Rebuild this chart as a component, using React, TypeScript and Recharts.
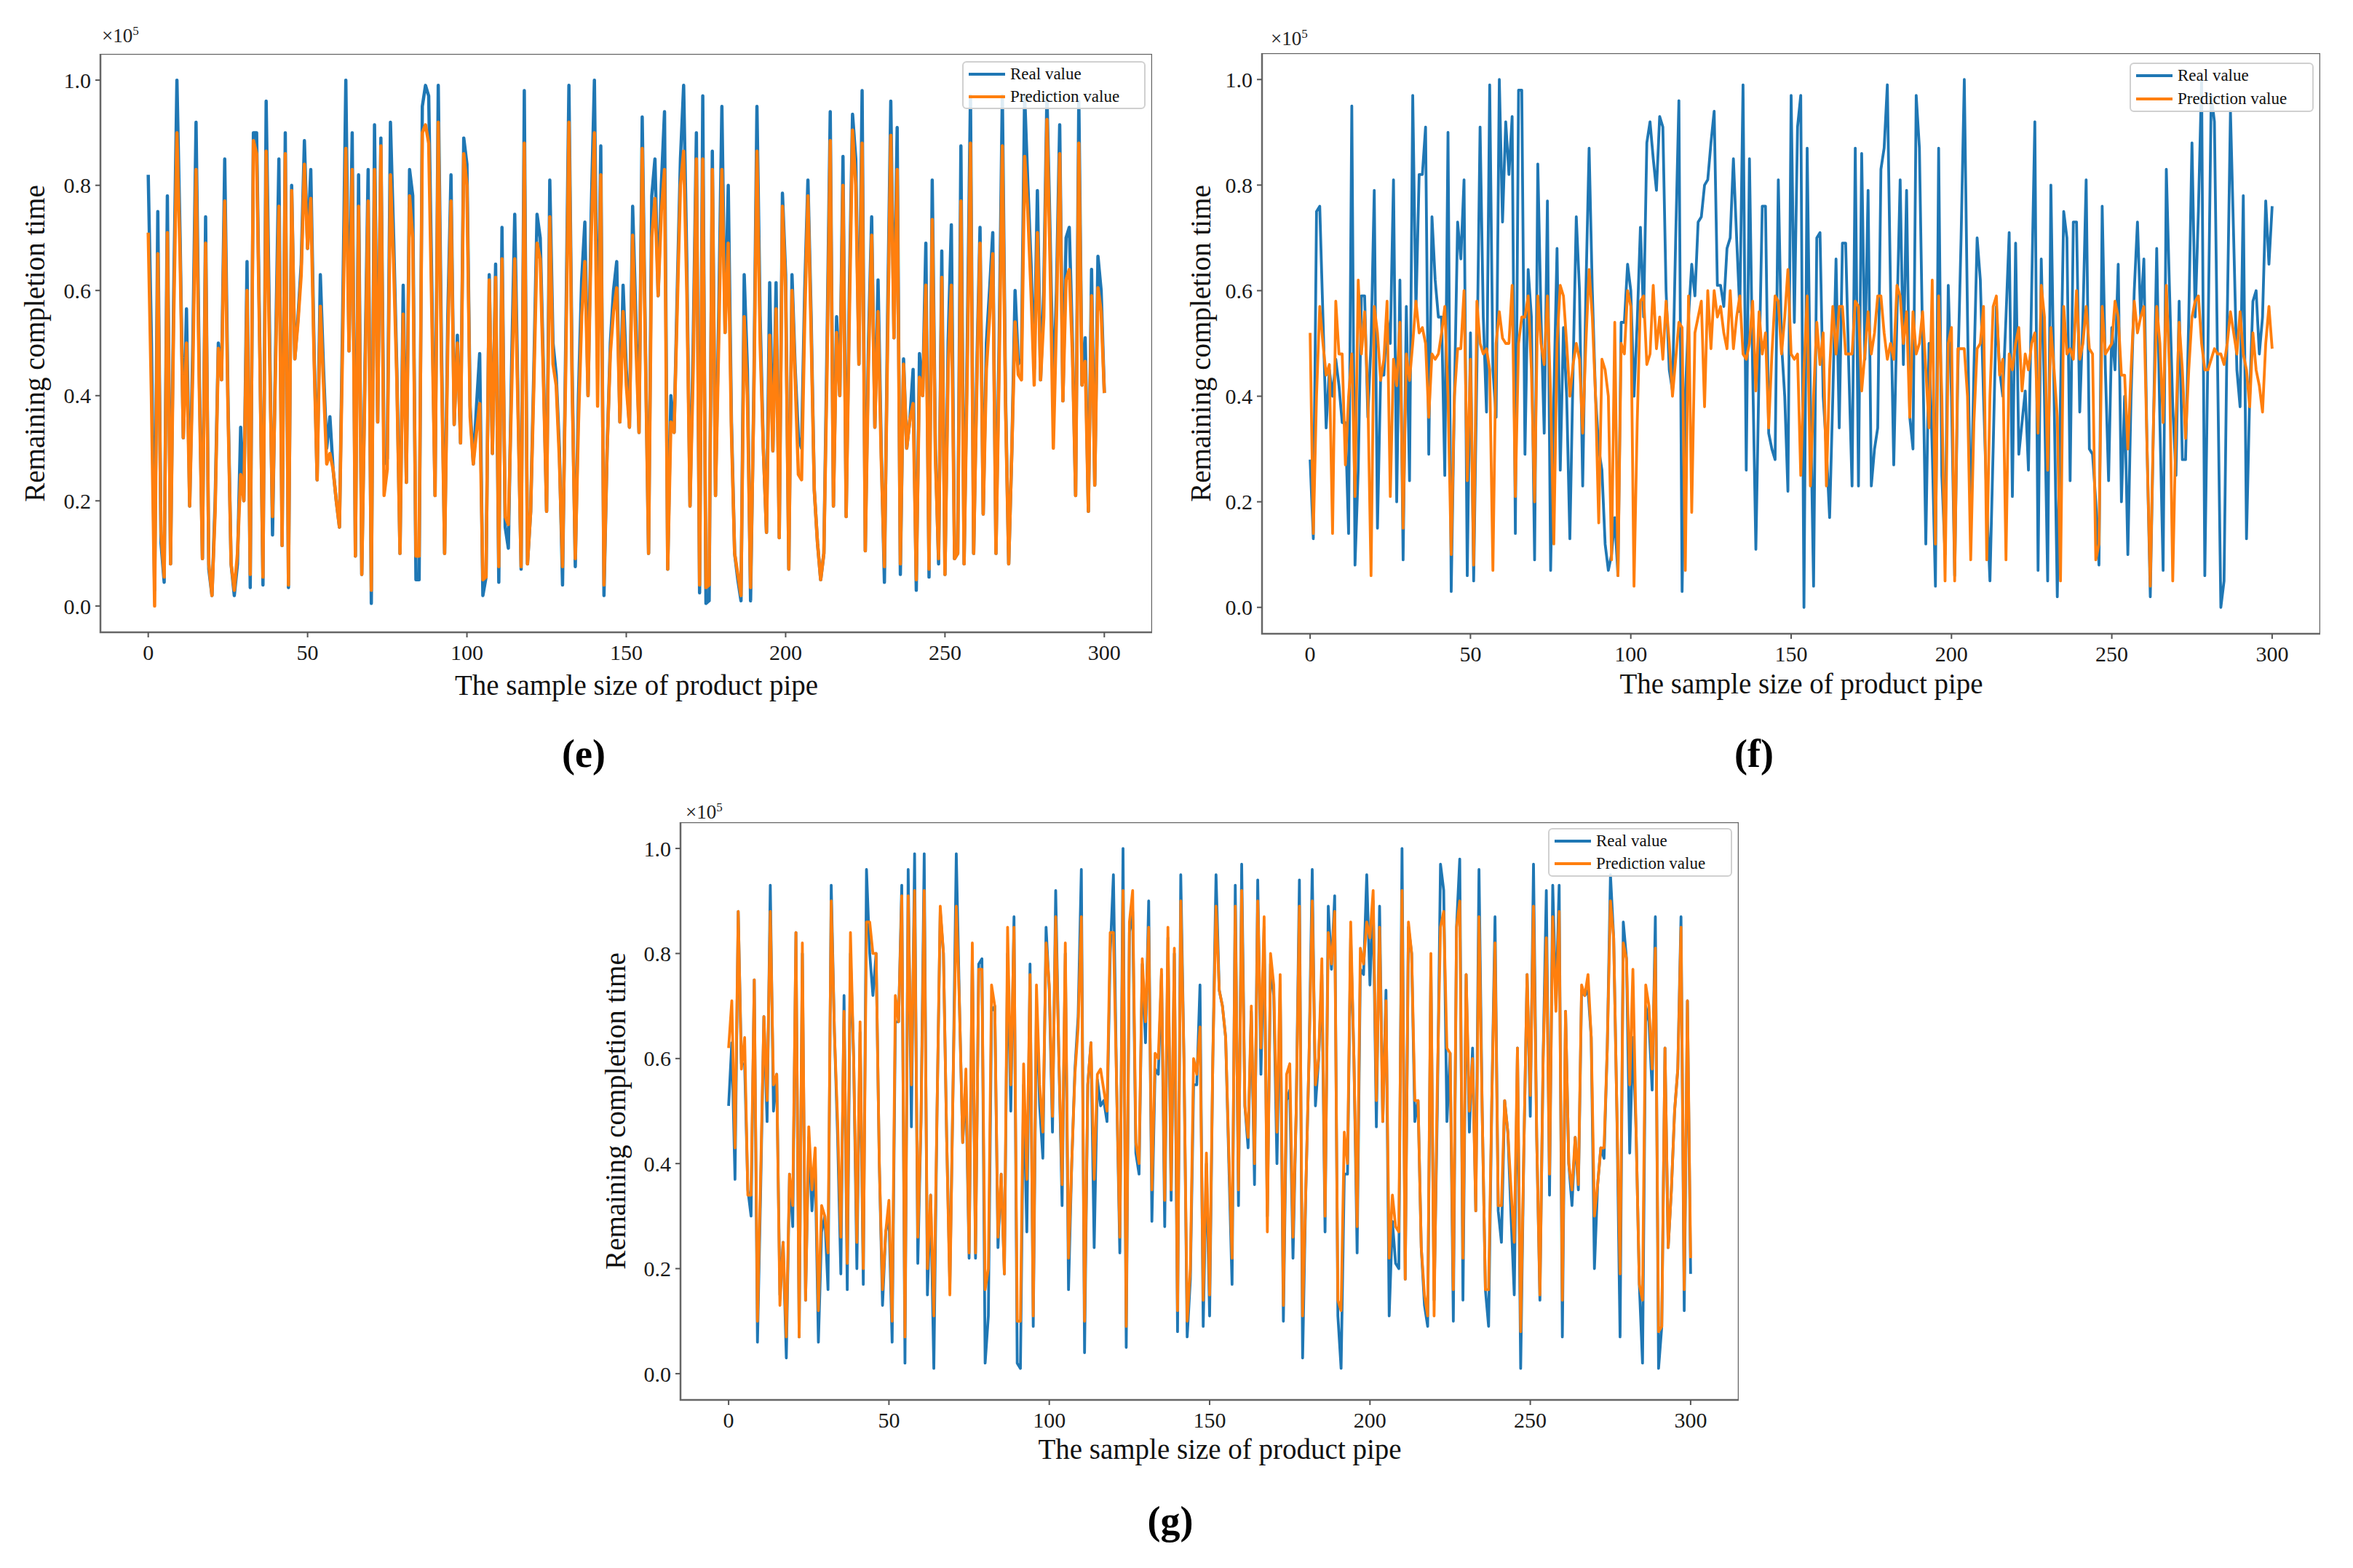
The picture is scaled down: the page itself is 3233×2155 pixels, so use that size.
import { LineChart, Line, XAxis, YAxis, ReferenceArea } from "recharts";

const SERIF = "'Liberation Serif', 'Times New Roman', serif";
const BLUE = "#1f77b4";
const ORANGE = "#ff7f0e";

const xTicks = [0, 50, 100, 150, 200, 250, 300];
const yTicks = [0, 0.2, 0.4, 0.6, 0.8, 1.0];

// values are in units of 1e5
// (e)
const realE = [
  0.82, 0.5, 0.03, 0.75, 0.12, 0.045, 0.78, 0.08, 0.6, 1.0,
  0.7, 0.32, 0.565, 0.19, 0.5, 0.92, 0.45, 0.09, 0.74, 0.07,
  0.02, 0.2, 0.5, 0.43, 0.85, 0.4, 0.08, 0.02, 0.08, 0.34,
  0.2, 0.655, 0.035, 0.9, 0.9, 0.5, 0.04, 0.96, 0.55, 0.135,
  0.5, 0.85, 0.115, 0.9, 0.035, 0.8, 0.47, 0.55, 0.65, 0.885,
  0.68, 0.83, 0.5, 0.24, 0.63, 0.45, 0.3, 0.36, 0.26, 0.2,
  0.15, 0.55, 1.0, 0.485, 0.9, 0.095, 0.82, 0.06, 0.45, 0.83,
  0.005, 0.915, 0.35, 0.89, 0.27, 0.28, 0.92, 0.7, 0.45, 0.1,
  0.61, 0.235, 0.83, 0.78, 0.05, 0.05, 0.95, 0.99, 0.97, 0.6,
  0.21, 0.99, 0.5, 0.1, 0.55, 0.82, 0.345, 0.515, 0.31, 0.89,
  0.84, 0.38, 0.27, 0.38, 0.48, 0.02, 0.055, 0.63, 0.29, 0.65,
  0.045, 0.72, 0.15, 0.11, 0.45, 0.745, 0.4, 0.07, 0.98, 0.08,
  0.18, 0.45, 0.745, 0.7, 0.45, 0.18, 0.81, 0.5, 0.44, 0.3,
  0.04, 0.5, 0.99, 0.45, 0.075, 0.4, 0.62, 0.73, 0.4, 0.75,
  1.0, 0.45, 0.875, 0.02, 0.3, 0.5, 0.6, 0.655, 0.35, 0.61,
  0.45, 0.34, 0.76, 0.55, 0.33, 0.93, 0.5, 0.1, 0.78, 0.85,
  0.59, 0.8, 0.94, 0.07, 0.4, 0.33, 0.6, 0.85, 0.99, 0.65,
  0.19, 0.5, 0.9, 0.025, 0.97, 0.005, 0.01, 0.865, 0.21, 0.55,
  0.95, 0.52, 0.8, 0.35, 0.1, 0.05, 0.01, 0.63, 0.45, 0.01,
  0.4, 0.95, 0.55, 0.3, 0.14, 0.615, 0.295, 0.615, 0.13, 0.785,
  0.63, 0.07, 0.63, 0.45, 0.32, 0.3, 0.6, 0.81, 0.55, 0.22,
  0.12, 0.05, 0.1, 0.5, 0.94, 0.19, 0.55, 0.4, 0.855, 0.17,
  0.6, 0.935, 0.85, 0.46, 0.98, 0.105, 0.5, 0.74, 0.34, 0.62,
  0.3, 0.045, 0.55, 0.96, 0.51, 0.91, 0.06, 0.47, 0.3, 0.355,
  0.45, 0.03, 0.48, 0.4, 0.69, 0.055, 0.81, 0.3, 0.08, 0.675,
  0.06, 0.5, 0.725, 0.09, 0.1, 0.875, 0.08, 0.5, 0.97, 0.1,
  0.45, 0.72, 0.175, 0.5, 0.6, 0.71, 0.1, 0.5, 0.97, 0.4,
  0.08, 0.3, 0.6, 0.46, 0.47, 0.97, 0.8, 0.65, 0.45, 0.79,
  0.43, 0.6, 0.97, 0.7, 0.4, 0.6, 0.915, 0.39, 0.7, 0.72,
  0.5, 0.21, 0.96, 0.42, 0.51, 0.18, 0.64, 0.23, 0.665, 0.6,
  0.405,
];
const predE = [
  0.71, 0.4, 0.0, 0.67, 0.14, 0.055, 0.71, 0.08, 0.55, 0.9,
  0.66, 0.32, 0.5, 0.19, 0.45, 0.83, 0.42, 0.09, 0.69, 0.08,
  0.02, 0.18, 0.49, 0.43, 0.77, 0.38, 0.08, 0.03, 0.1, 0.25,
  0.2, 0.6, 0.06, 0.885, 0.86, 0.48, 0.055, 0.865, 0.5, 0.17,
  0.47, 0.76, 0.115, 0.86, 0.04, 0.79, 0.47, 0.54, 0.63, 0.84,
  0.68, 0.775, 0.48, 0.24, 0.57, 0.42, 0.27, 0.29, 0.26, 0.2,
  0.15, 0.5, 0.87, 0.485, 0.83, 0.095, 0.76, 0.06, 0.42, 0.77,
  0.03, 0.83, 0.35, 0.875, 0.21, 0.26, 0.82, 0.65, 0.43, 0.1,
  0.555, 0.235, 0.78, 0.7, 0.095, 0.095, 0.9, 0.915, 0.88, 0.55,
  0.21, 0.92, 0.46, 0.1, 0.5, 0.77, 0.345, 0.5, 0.31, 0.86,
  0.8, 0.36, 0.27, 0.33, 0.385, 0.05, 0.055, 0.62, 0.29, 0.625,
  0.075, 0.66, 0.17, 0.155, 0.4, 0.66, 0.38, 0.075, 0.88, 0.08,
  0.18, 0.42, 0.69, 0.66, 0.43, 0.18, 0.74, 0.46, 0.42, 0.28,
  0.075, 0.45, 0.92, 0.42, 0.09, 0.35, 0.55, 0.655, 0.4, 0.7,
  0.9, 0.38, 0.82, 0.04, 0.3, 0.48, 0.56, 0.605, 0.35, 0.56,
  0.42, 0.34, 0.705, 0.5, 0.33, 0.87, 0.48, 0.1, 0.7, 0.775,
  0.59, 0.75, 0.83, 0.07, 0.35, 0.33, 0.57, 0.8, 0.865, 0.6,
  0.19, 0.45, 0.85, 0.04, 0.85, 0.035, 0.04, 0.83, 0.21, 0.5,
  0.83, 0.52, 0.69, 0.33, 0.1, 0.06, 0.02, 0.55, 0.4, 0.035,
  0.38, 0.865, 0.5, 0.3, 0.14, 0.515, 0.295, 0.565, 0.13, 0.76,
  0.6, 0.07, 0.6, 0.43, 0.25, 0.24, 0.55, 0.78, 0.52, 0.22,
  0.12, 0.05, 0.1, 0.45, 0.885, 0.19, 0.52, 0.4, 0.8, 0.17,
  0.55, 0.905, 0.8, 0.46, 0.88, 0.105, 0.46, 0.705, 0.34, 0.56,
  0.28, 0.075, 0.5, 0.895, 0.51, 0.83, 0.08, 0.46, 0.3, 0.355,
  0.385, 0.05, 0.435, 0.4, 0.61, 0.07, 0.735, 0.28, 0.09, 0.625,
  0.06, 0.45, 0.61, 0.09, 0.1, 0.77, 0.08, 0.45, 0.88, 0.1,
  0.42, 0.69, 0.175, 0.45, 0.55, 0.67, 0.1, 0.45, 0.875, 0.38,
  0.08, 0.3, 0.54, 0.44, 0.43, 0.855, 0.75, 0.6, 0.42, 0.71,
  0.43, 0.55, 0.925, 0.65, 0.3, 0.55, 0.86, 0.39, 0.62, 0.64,
  0.48, 0.21, 0.88, 0.42, 0.465, 0.18, 0.59, 0.23, 0.605, 0.56,
  0.405,
];

// (f)
const realF = [
  0.28, 0.13, 0.75, 0.76, 0.55, 0.34, 0.45, 0.4, 0.47, 0.42,
  0.35, 0.35, 0.14, 0.95, 0.08, 0.26, 0.59, 0.59, 0.36, 0.5,
  0.79, 0.15, 0.44, 0.44, 0.55, 0.5, 0.81, 0.2, 0.62, 0.09,
  0.57, 0.24, 0.97, 0.56, 0.82, 0.82, 0.91, 0.29, 0.74, 0.62,
  0.55, 0.55, 0.25, 0.9, 0.03, 0.4, 0.73, 0.66, 0.81, 0.06,
  0.52, 0.05, 0.45, 0.91, 0.55, 0.37, 0.99, 0.45, 0.36, 1.0,
  0.73, 0.92, 0.82, 0.93, 0.14, 0.98, 0.98, 0.29, 0.64, 0.55,
  0.09, 0.84, 0.55, 0.33, 0.77, 0.07, 0.4, 0.68, 0.26, 0.53,
  0.4, 0.13, 0.45, 0.74, 0.6, 0.23, 0.6, 0.87, 0.6, 0.4,
  0.3, 0.26, 0.12, 0.07, 0.1, 0.17, 0.06, 0.54, 0.54, 0.65,
  0.6, 0.4, 0.54, 0.72, 0.55, 0.88, 0.92, 0.85, 0.79, 0.93,
  0.91, 0.6, 0.45, 0.41, 0.7, 0.96, 0.03, 0.4, 0.55, 0.65,
  0.59, 0.73, 0.74, 0.8, 0.81, 0.88, 0.94, 0.61, 0.61, 0.57,
  0.68, 0.7, 0.85, 0.7, 0.56, 0.99, 0.26, 0.85, 0.45, 0.11,
  0.45, 0.76, 0.76, 0.33, 0.3, 0.28, 0.81, 0.5, 0.4, 0.22,
  0.97, 0.54, 0.91, 0.97, 0.0, 0.87, 0.4, 0.04, 0.7, 0.71,
  0.4, 0.3, 0.17, 0.4, 0.66, 0.34, 0.69, 0.69, 0.45, 0.23,
  0.87, 0.23, 0.86, 0.47, 0.79, 0.23, 0.3, 0.34, 0.83, 0.87,
  0.99, 0.6, 0.27, 0.55, 0.81, 0.46, 0.79, 0.36, 0.3, 0.97,
  0.87, 0.5, 0.12, 0.5, 0.3, 0.04, 0.87, 0.25, 0.1, 0.61,
  0.4, 0.06, 0.45, 0.7, 1.0, 0.55, 0.15, 0.45, 0.7, 0.62,
  0.4, 0.2, 0.05, 0.3, 0.57, 0.45, 0.4, 0.55, 0.71, 0.21,
  0.69, 0.29, 0.35, 0.41, 0.26, 0.6, 0.92, 0.07, 0.66, 0.4,
  0.05, 0.8, 0.4, 0.02, 0.4, 0.75, 0.7, 0.24, 0.73, 0.73,
  0.37, 0.55, 0.81, 0.3, 0.29, 0.2, 0.08, 0.76, 0.45, 0.24,
  0.53, 0.45, 0.65, 0.2, 0.4, 0.1, 0.4, 0.6, 0.73, 0.55,
  0.66, 0.3, 0.02, 0.35, 0.68, 0.35, 0.07, 0.83, 0.6, 0.38,
  0.25, 0.58, 0.28, 0.28, 0.55, 0.88, 0.55, 0.75, 1.0, 0.06,
  0.5, 0.97, 0.92, 0.45, 0.0, 0.05, 0.55, 0.94, 0.7, 0.45,
  0.38, 0.78, 0.13, 0.4, 0.58, 0.6, 0.48, 0.55, 0.77, 0.65,
  0.76,
];
const predF = [
  0.52, 0.14, 0.4, 0.57, 0.5, 0.44, 0.46, 0.14, 0.58, 0.48,
  0.48, 0.27, 0.4, 0.48, 0.21, 0.62, 0.48, 0.56, 0.4, 0.06,
  0.57, 0.52, 0.43, 0.47, 0.58, 0.21, 0.47, 0.42, 0.54, 0.15,
  0.48, 0.43, 0.5, 0.58, 0.52, 0.53, 0.5, 0.36, 0.48, 0.47,
  0.48, 0.52, 0.57, 0.4, 0.1, 0.4, 0.49, 0.49, 0.6, 0.24,
  0.47, 0.08, 0.58, 0.5, 0.48, 0.49, 0.45, 0.07, 0.5, 0.56,
  0.51, 0.5, 0.5, 0.61, 0.21, 0.5, 0.55, 0.55, 0.59, 0.45,
  0.2, 0.59, 0.5, 0.46, 0.59, 0.4, 0.12, 0.5, 0.61, 0.59,
  0.5, 0.4, 0.46, 0.5, 0.47, 0.33, 0.5, 0.64, 0.55, 0.4,
  0.16, 0.47, 0.45, 0.4, 0.09, 0.54, 0.06, 0.5, 0.48, 0.6,
  0.57, 0.04, 0.35, 0.58, 0.59, 0.46, 0.48, 0.61, 0.49, 0.55,
  0.47, 0.58, 0.5, 0.4, 0.47, 0.54, 0.53, 0.07, 0.59, 0.18,
  0.52, 0.55, 0.58, 0.38, 0.6, 0.49, 0.6, 0.55, 0.57, 0.52,
  0.49, 0.6, 0.49, 0.55, 0.59, 0.48, 0.47, 0.5, 0.58, 0.41,
  0.56, 0.48, 0.52, 0.34, 0.48, 0.59, 0.58, 0.48, 0.55, 0.64,
  0.48, 0.47, 0.48, 0.25, 0.45, 0.59, 0.23, 0.4, 0.54, 0.46,
  0.52, 0.23, 0.45, 0.57, 0.48, 0.57, 0.57, 0.48, 0.48, 0.48,
  0.58, 0.57, 0.41, 0.48, 0.56, 0.48, 0.52, 0.59, 0.59, 0.52,
  0.47, 0.5, 0.47, 0.61, 0.59, 0.5, 0.56, 0.36, 0.56, 0.48,
  0.5, 0.56, 0.45, 0.34, 0.62, 0.12, 0.59, 0.4, 0.05, 0.5,
  0.53, 0.05, 0.49, 0.49, 0.49, 0.4, 0.09, 0.35, 0.49, 0.5,
  0.57, 0.09, 0.4, 0.57, 0.59, 0.44, 0.47, 0.09, 0.48, 0.45,
  0.5, 0.53, 0.41, 0.48, 0.45, 0.5, 0.52, 0.33, 0.61, 0.55,
  0.26, 0.53, 0.45, 0.36, 0.05, 0.57, 0.48, 0.49, 0.47, 0.6,
  0.47, 0.5, 0.57, 0.49, 0.48, 0.09, 0.12, 0.57, 0.48, 0.49,
  0.5, 0.58, 0.55, 0.44, 0.44, 0.3, 0.45, 0.58, 0.52, 0.55,
  0.57, 0.3, 0.04, 0.35, 0.57, 0.5, 0.35, 0.61, 0.45, 0.05,
  0.35, 0.54, 0.45, 0.32, 0.45, 0.55, 0.58, 0.59, 0.5, 0.45,
  0.45, 0.47, 0.49, 0.48, 0.48, 0.46, 0.5, 0.56, 0.52, 0.48,
  0.56, 0.48, 0.45, 0.38, 0.52, 0.45, 0.42, 0.37, 0.5, 0.57,
  0.49,
];

// (g)
const realG = [
  0.51, 0.63, 0.37, 0.88, 0.59, 0.59, 0.35, 0.3, 0.75, 0.06,
  0.35, 0.68, 0.48, 0.93, 0.5, 0.57, 0.15, 0.25, 0.03, 0.38,
  0.28, 0.84, 0.07, 0.8, 0.14, 0.45, 0.31, 0.4, 0.06, 0.27,
  0.3, 0.16, 0.93, 0.65, 0.45, 0.19, 0.72, 0.16, 0.8, 0.6,
  0.2, 0.65, 0.17, 0.96, 0.8, 0.72, 0.8, 0.4, 0.13, 0.27,
  0.3, 0.06, 0.67, 0.67, 0.93, 0.02, 0.96, 0.47, 0.99, 0.21,
  0.48, 0.99, 0.15, 0.34, 0.01, 0.5, 0.88, 0.8, 0.45, 0.17,
  0.55, 0.99, 0.7, 0.44, 0.55, 0.22, 0.8, 0.22, 0.78, 0.79,
  0.02, 0.11, 0.69, 0.7, 0.24, 0.38, 0.19, 0.8, 0.5, 0.87,
  0.02, 0.01, 0.55, 0.27, 0.78, 0.09, 0.7, 0.51, 0.41, 0.85,
  0.73, 0.46, 0.92, 0.6, 0.32, 0.8, 0.16, 0.4, 0.58, 0.68,
  0.96, 0.04, 0.55, 0.63, 0.24, 0.56, 0.51, 0.52, 0.48, 0.8,
  0.95, 0.55, 0.23, 1.0, 0.05, 0.84, 0.88, 0.42, 0.38, 0.78,
  0.63, 0.9, 0.29, 0.58, 0.57, 0.76, 0.28, 0.83, 0.33, 0.8,
  0.08, 0.95, 0.6, 0.07, 0.18, 0.55, 0.55, 0.74, 0.09, 0.4,
  0.11, 0.6, 0.95, 0.73, 0.7, 0.64, 0.4, 0.17, 0.93, 0.32,
  0.97, 0.51, 0.43, 0.69, 0.36, 0.94, 0.57, 0.85, 0.3, 0.78,
  0.72, 0.4, 0.74, 0.1, 0.52, 0.54, 0.22, 0.5, 0.94, 0.03,
  0.35, 0.6, 0.96, 0.51, 0.6, 0.76, 0.27, 0.89, 0.77, 0.91,
  0.11, 0.01, 0.38, 0.38, 0.83, 0.6, 0.23, 0.77, 0.76, 0.95,
  0.74, 0.9, 0.47, 0.89, 0.48, 0.73, 0.11, 0.29, 0.21, 0.2,
  1.0, 0.18, 0.85, 0.8, 0.48, 0.52, 0.24, 0.13, 0.09, 0.78,
  0.14, 0.5, 0.97, 0.92, 0.48, 0.61, 0.1, 0.85, 0.98, 0.14,
  0.76, 0.46, 0.62, 0.31, 0.96, 0.5, 0.16, 0.09, 0.52, 0.87,
  0.31, 0.25, 0.52, 0.46, 0.3, 0.15, 0.62, 0.01, 0.43, 0.76,
  0.49, 0.97, 0.45, 0.14, 0.6, 0.92, 0.34, 0.93, 0.7, 0.93,
  0.07, 0.69, 0.4, 0.32, 0.45, 0.35, 0.73, 0.72, 0.73, 0.64,
  0.2, 0.36, 0.43, 0.41, 0.62, 0.95, 0.83, 0.5, 0.07, 0.86,
  0.79, 0.42, 0.64, 0.46, 0.17, 0.02, 0.7, 0.67, 0.54, 0.87,
  0.01, 0.09, 0.62, 0.24, 0.35, 0.5, 0.58, 0.87, 0.12, 0.71,
  0.19,
];
const predG = [
  0.62, 0.71, 0.43, 0.88, 0.58, 0.64, 0.34, 0.34, 0.75, 0.1,
  0.38, 0.68, 0.52, 0.88, 0.55, 0.57, 0.13, 0.25, 0.07, 0.38,
  0.32, 0.84, 0.07, 0.82, 0.14, 0.47, 0.35, 0.43, 0.12, 0.32,
  0.3, 0.23, 0.9, 0.65, 0.48, 0.26, 0.69, 0.21, 0.84, 0.6,
  0.25, 0.67, 0.2, 0.86, 0.86, 0.8, 0.8, 0.4, 0.16, 0.27,
  0.33, 0.1, 0.72, 0.67, 0.91, 0.07, 0.91, 0.55, 0.92, 0.26,
  0.48, 0.92, 0.2, 0.34, 0.11, 0.5, 0.89, 0.8, 0.45, 0.15,
  0.55, 0.89, 0.7, 0.44, 0.58, 0.23, 0.82, 0.23, 0.77, 0.77,
  0.16, 0.2, 0.74, 0.7, 0.26, 0.38, 0.19, 0.85, 0.55, 0.85,
  0.1, 0.1, 0.59, 0.37, 0.76, 0.11, 0.74, 0.55, 0.46, 0.82,
  0.74, 0.49, 0.87, 0.6, 0.36, 0.82, 0.22, 0.4, 0.57, 0.66,
  0.87, 0.1, 0.55, 0.63, 0.37, 0.57, 0.58, 0.54, 0.5, 0.84,
  0.84, 0.55, 0.26, 0.92, 0.09, 0.86, 0.92, 0.44, 0.4, 0.79,
  0.67, 0.85, 0.35, 0.61, 0.6, 0.77, 0.33, 0.85, 0.35, 0.81,
  0.12, 0.9, 0.6, 0.1, 0.2, 0.6, 0.57, 0.66, 0.14, 0.42,
  0.15, 0.6, 0.89, 0.73, 0.7, 0.64, 0.42, 0.22, 0.89, 0.35,
  0.92, 0.51, 0.45, 0.7, 0.4, 0.9, 0.62, 0.87, 0.27, 0.8,
  0.74, 0.46, 0.76, 0.13, 0.57, 0.59, 0.26, 0.5, 0.89, 0.11,
  0.35, 0.6, 0.9, 0.55, 0.6, 0.79, 0.3, 0.84, 0.78, 0.88,
  0.14, 0.12, 0.46, 0.4, 0.86, 0.6, 0.28, 0.81, 0.78, 0.86,
  0.83, 0.92, 0.52, 0.85, 0.48, 0.71, 0.22, 0.34, 0.28, 0.27,
  0.92, 0.18, 0.86, 0.8, 0.52, 0.52, 0.24, 0.15, 0.11, 0.8,
  0.11, 0.55, 0.85, 0.88, 0.62, 0.61, 0.16, 0.85, 0.9, 0.22,
  0.76, 0.5, 0.6, 0.31, 0.87, 0.5, 0.16, 0.16, 0.52, 0.82,
  0.32, 0.32, 0.52, 0.46, 0.35, 0.25, 0.62, 0.08, 0.43, 0.76,
  0.53, 0.89, 0.45, 0.15, 0.6, 0.83, 0.38, 0.87, 0.69, 0.88,
  0.14, 0.69, 0.4, 0.35, 0.45, 0.36, 0.74, 0.72, 0.76, 0.64,
  0.3, 0.36, 0.43, 0.43, 0.62, 0.9, 0.83, 0.5, 0.19, 0.82,
  0.79, 0.55, 0.77, 0.46, 0.17, 0.14, 0.74, 0.7, 0.58, 0.81,
  0.08, 0.09, 0.62, 0.24, 0.35, 0.5, 0.58, 0.85, 0.16, 0.71,
  0.22,
];

type PanelCfg = {
  tag: string;
  real: number[];
  pred: number[];
  box: [number, number, number, number]; // left, top, width, height of the axes frame
  lw: number;
  legend: [number, number, number, number];
  yLabelX: number;
  xLabelY: number;
  offsetPos: [number, number];
  tagPos: [number, number];
};

const panels: PanelCfg[] = [
  {
    tag: "(e)", real: realE, pred: predE, box: [138, 74, 1445, 795], lw: 4.5,
    legend: [1322, 84, 252, 66], yLabelX: 47, xLabelY: 941, offsetPos: [140, 46], tagPos: [802, 1036],
  },
  {
    tag: "(f)", real: realF, pred: predF, box: [1734, 73, 1454, 798], lw: 3.8,
    legend: [2926, 86, 253, 68], yLabelX: 1649, xLabelY: 939, offsetPos: [1746, 50], tagPos: [2410, 1036],
  },
  {
    tag: "(g)", real: realG, pred: predG, box: [935, 1130, 1454, 794], lw: 3.8,
    legend: [2127, 1138, 253, 67], yLabelX: 845, xLabelY: 1991, offsetPos: [942, 1113], tagPos: [1608, 2090],
  },
];

const YW = 120;
const XH = 70;

function Panel({ cfg }: { cfg: PanelCfg }) {
  const data = cfg.real.map((r, i) => ({ x: i, real: r, pred: cfg.pred[i] }));
  const [bx, by, bw, bh] = cfg.box;
  const tickStyle = { fontSize: 30, fill: "#1a1a1a", fontFamily: SERIF };
  const tickLine = { stroke: "#555", strokeWidth: 2 };
  const [lx, ly, lw, lh] = cfg.legend;

  return (
    <>
      <div style={{ position: "absolute", left: bx - YW, top: by }}>
        <LineChart width={bw + YW} height={bh + XH} data={data} margin={{ top: 0, right: 0, bottom: 0, left: 0 }}>
          <XAxis
            dataKey="x"
            type="number"
            domain={[-15, 315]}
            ticks={xTicks}
            allowDataOverflow
            height={XH}
            axisLine={false}
            tickLine={tickLine}
            tickSize={7}
            tickMargin={10}
            tick={tickStyle}
          />
          <YAxis
            type="number"
            domain={[-0.05, 1.05]}
            ticks={yTicks}
            allowDataOverflow
            width={YW}
            axisLine={false}
            tickLine={tickLine}
            tickSize={7}
            tickMargin={6}
            tick={tickStyle}
            tickFormatter={(v: number) => v.toFixed(1)}
          />
          <ReferenceArea x1={-15} x2={315} y1={-0.05} y2={1.05} fill="none" stroke="#666" strokeWidth={2.5} ifOverflow="visible" />
          <Line type="linear" dataKey="real" stroke={BLUE} strokeWidth={cfg.lw} strokeLinejoin="round" dot={false} isAnimationActive={false} />
          <Line type="linear" dataKey="pred" stroke={ORANGE} strokeWidth={cfg.lw} strokeLinejoin="round" dot={false} isAnimationActive={false} />
        </LineChart>
      </div>

      {/* legend */}
      <div
        style={{
          position: "absolute", left: lx, top: ly, width: lw, height: lh, boxSizing: "border-box",
          border: "2px solid #d0d0d0", borderRadius: 6, background: "rgba(255,255,255,0.85)",
          fontFamily: SERIF, fontSize: 23, color: "#111",
        }}
      >
        {[
          { label: "Real value", color: BLUE },
          { label: "Prediction value", color: ORANGE },
        ].map((it) => (
          <div key={it.label} style={{ display: "flex", alignItems: "center", height: (lh - 4) / 2, paddingLeft: 7 }}>
            <span style={{ display: "inline-block", width: 50, height: 4, background: it.color, marginRight: 7 }} />
            <span>{it.label}</span>
          </div>
        ))}
      </div>

      {/* scale factor */}
      <div style={{ position: "absolute", left: cfg.offsetPos[0], top: cfg.offsetPos[1] - 18, fontFamily: SERIF, fontSize: 27, color: "#222", lineHeight: "30px", whiteSpace: "nowrap" }}>
        ×10<sup style={{ fontSize: 17, verticalAlign: "10px" }}>5</sup>
      </div>

      {/* axis titles */}
      <div
        style={{
          position: "absolute", left: cfg.yLabelX, top: by + bh / 2, transform: "translate(-50%, -50%) rotate(-90deg)",
          fontFamily: SERIF, fontSize: 39, color: "#111", whiteSpace: "nowrap",
        }}
      >
        Remaining completion time
      </div>
      <div
        style={{
          position: "absolute", left: bx + bw / 2 + 14, top: cfg.xLabelY, transform: "translate(-50%, -50%)",
          fontFamily: SERIF, fontSize: 39, color: "#111", whiteSpace: "nowrap",
        }}
      >
        The sample size of product pipe
      </div>

      {/* panel tag */}
      <div
        style={{
          position: "absolute", left: cfg.tagPos[0], top: cfg.tagPos[1], transform: "translate(-50%, -50%)",
          fontFamily: SERIF, fontSize: 54, fontWeight: "bold", color: "#000", whiteSpace: "nowrap",
        }}
      >
        {cfg.tag}
      </div>
    </>
  );
}

export default function App() {
  return (
    <div style={{ position: "absolute", left: 0, top: 0, width: 3233, height: 2155, background: "#fff", overflow: "hidden" }}>
      {panels.map((p) => (
        <Panel key={p.tag} cfg={p} />
      ))}
    </div>
  );
}
